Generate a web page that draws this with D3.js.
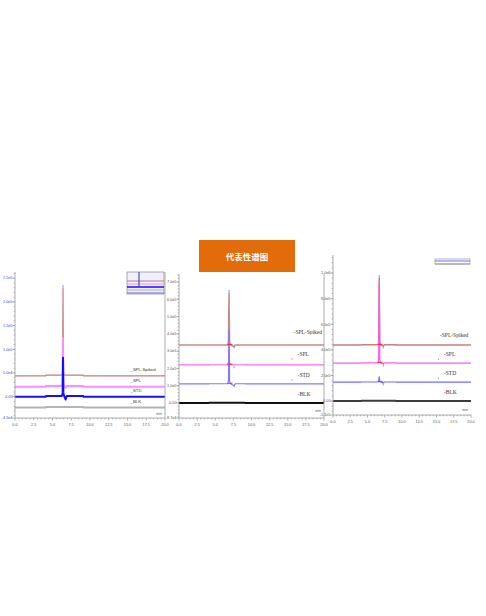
<!DOCTYPE html>
<html><head><meta charset="utf-8">
<script src="https://cdn.jsdelivr.net/npm/d3@7"></script>
<style>body{margin:0;background:#fff}svg{display:block}</style>
</head><body><svg id="c" width="486" height="616"></svg>
<script>
// ---------- data ----------
const titleText = "代表性谱图";
const seriesNames = ["SPL-Spiked", "SPL", "STD", "BLK"];
const xTickValues = [0, 2.5, 5, 7.5, 10, 12.5, 15, 17.5, 20];
const xTickLabels = ["0.0", "2.5", "5.0", "7.5", "10.0", "12.5", "15.0", "17.5", "20.0"];

const p1TickValues = [250000, 200000, 150000, 100000, 50000, 0, -45000];
const p1TickLabels = ["2.5e5", "2.0e5", "1.5e5", "1.0e5", "5.0e4", "0.00", "-4.5e4"];
const p1Time   = [0, 4.1, 4.12, 6.25, 6.35, 6.4, 6.45, 6.55, 6.75, 6.9, 9.1, 9.12, 20];
const p1Spiked = [44000, 44000, 45500, 45500, 52000, 229000, 52000, 45500, 45500, 45500, 45500, 44000, 44000];
const p1Spl    = [21000, 21000, 22500, 22500, 30000, 124000, 30000, 22500, 19000, 22500, 22500, 21000, 21000];
const p1Std    = [0, 0, 1500, 1500, 8000, 82000, 8000, 1500, -6000, 1500, 1500, 0, 0];
const p1Blk    = [-23000, -23000, -22000, -22000, -22000, -22000, -22000, -22000, -22000, -22000, -22000, -23000, -23000];

const p2TickValues = [700000, 600000, 500000, 400000, 300000, 200000, 100000, 0, -87000];
const p2TickLabels = ["7.0e5", "6.0e5", "5.0e5", "4.0e5", "3.0e5", "2.0e5", "1.0e5", "0.00", "-8.7e4"];
const p2Time   = [0, 4.1, 4.12, 6.7, 6.82, 6.9, 6.98, 7.1, 7.6, 7.75, 9.1, 9.12, 20];
const p2Spiked = [335000, 335000, 336000, 336000, 350000, 636000, 350000, 336000, 325000, 336000, 336000, 335000, 335000];
const p2Spl    = [220000, 220000, 221000, 221000, 235000, 360000, 235000, 221000, 221000, 221000, 221000, 220000, 220000];
const p2Std    = [110000, 110000, 111000, 111000, 125000, 420000, 125000, 111000, 100000, 111000, 111000, 110000, 110000];
const p2Blk    = [0, 0, 1000, 1000, 1000, 1000, 1000, 1000, 1000, 1000, 1000, 0, 0];

const p3TickValues = [1000000, 800000, 600000, 400000, 200000, 0, -109000];
const p3TickLabels = ["1.0e6", "8.0e5", "6.0e5", "4.0e5", "2.0e5", "0.00", "-1.1e5"];
const p3Time   = [0, 4.1, 4.12, 6.5, 6.62, 6.7, 6.78, 6.9, 7.3, 7.45, 9.1, 9.12, 20];
const p3Spiked = [437000, 437000, 439000, 439000, 455000, 960000, 455000, 439000, 430000, 439000, 439000, 437000, 437000];
const p3Spl    = [297000, 297000, 298000, 298000, 320000, 930000, 320000, 298000, 290000, 298000, 298000, 297000, 297000];
const p3Std    = [148000, 148000, 149000, 149000, 155000, 190000, 155000, 149000, 142000, 149000, 149000, 148000, 148000];
const p3Blk    = [0, 0, 2000, 2000, 2000, 2000, 2000, 2000, 2000, 2000, 2000, 0, 0];

// ---------- layout / style ----------
const svg = d3.select("#c");
const panels = [
  { x0: 15, x1: 165, yTop: 272, yBot: 418, domain: [-45000, 263000], ticks: p1TickValues, labels: p1TickLabels,
    time: p1Time, series: [p1Spiked, p1Spl, p1Std, p1Blk], tickColor: "#3a3aff", rightBorder: true,
    colors: ["#c47c7c", "#ff8cff", "#1010ff", "#b4b4b4"], widths: [1.2, 2, 2, 2],
    labelT: 15.4, labelDy: [-5, -5, -5, -5], labelFont: 4.3, labelPrefix: "_", labelSerif: false, minDy: -3,
    inset: { x: 127, y: 272, w: 37, h: 22, rows: [281, 284, 287, 290], extra: 293, vline: 139 }, red: false },
  { x0: 179, x1: 324, yTop: 274, yBot: 418, domain: [-87000, 746000], ticks: p2TickValues, labels: p2TickLabels,
    time: p2Time, series: [p2Spiked, p2Spl, p2Std, p2Blk], tickColor: "#555", rightBorder: true,
    colors: ["#c48a8a", "#ff66ff", "#7c7cff", "#111"], widths: [1.5, 1.2, 1.2, 2],
    labelT: 15.8, labelDy: [-11, -9, -7, -7], labelFont: 5.5, labelPrefix: "-", labelSerif: true, minDy: -6, red: true },
  { x0: 333, x1: 471, yTop: 255, yBot: 415, domain: [-109000, 1141000], ticks: p3TickValues, labels: p3TickLabels,
    time: p3Time, series: [p3Spiked, p3Spl, p3Std, p3Blk], tickColor: "#555", rightBorder: false,
    colors: ["#c48080", "#ff55ff", "#6e6eff", "#3c3c3c"], widths: [1.5, 1.2, 1.2, 2],
    labelT: 15.5, labelDy: [-8, -7, -7, -7], labelFont: 5.5, labelPrefix: "-", labelSerif: true, minDy: -4,
    inset3: { x: 435, y: 259, w: 35, h: 5 }, red: true }
];

// title
const tb = svg.append("g");
tb.append("rect").attr("x", 199).attr("y", 240).attr("width", 96).attr("height", 32).attr("fill", "#e36c0a");
tb.append("text").attr("x", 247).attr("y", 259.5).attr("text-anchor", "middle")
  .attr("font-family", "'Noto Sans CJK SC', sans-serif").attr("font-size", 8.5).attr("font-weight", "bold")
  .attr("fill", "#fff").text(titleText);

panels.forEach((p, pi) => {
  const g = svg.append("g");
  const x = d3.scaleLinear().domain([0, 20]).range([p.x0, p.x1]);
  const y = d3.scaleLinear().domain(p.domain).range([p.yBot, p.yTop]);

  g.append("rect").attr("x", p.x0).attr("y", p.yTop).attr("width", p.x1 - p.x0).attr("height", p.yBot - p.yTop).attr("fill", "#fff");

  const line = d3.line().x(d => x(d[0])).y(d => y(d[1]));
  [3, 0, 1, 2].forEach(si => {
    const pts = p.time.map((t, i) => [t, p.series[si][i]]);
    g.append("path").attr("d", line(pts)).attr("fill", "none")
      .attr("stroke", p.colors[si]).attr("stroke-width", p.widths[si]).attr("stroke-linejoin", "round");
  });

  if (p.red) {
    [0, 1, 2].forEach(si => {
      const s = p.series[si];
      g.append("line").attr("x1", x(p.time[4]) - 1).attr("x2", x(p.time[7]) + 2)
        .attr("y1", y(s[3]) - 0.5).attr("y2", y(s[3]) - 0.5).attr("stroke", "#ff2020").attr("stroke-width", 1);
      g.append("line").attr("x1", x(p.time[8])).attr("x2", x(p.time[8]))
        .attr("y1", y(s[3]) + 1).attr("y2", y(s[3]) + 3.5).attr("stroke", "#8080ff").attr("stroke-width", 0.8);
    });
  }
  const apex = d3.max(p.series[0]);
  g.append("line").attr("x1", x(p.time[5])).attr("x2", x(p.time[5]))
    .attr("y1", y(apex) - 0.5).attr("y2", y(apex) - 3).attr("stroke", "#8a8aff").attr("stroke-width", 1);

  const ax = g.append("g").attr("fill", "none").attr("stroke", "#9a9a9a").attr("stroke-width", 0.8);
  ax.append("line").attr("x1", p.x0).attr("x2", p.x0).attr("y1", p.yTop).attr("y2", p.yBot);
  ax.append("line").attr("x1", p.x0).attr("x2", p.x1).attr("y1", p.yBot).attr("y2", p.yBot);
  if (p.rightBorder) ax.append("line").attr("x1", p.x1).attr("x2", p.x1).attr("y1", p.yTop).attr("y2", p.yBot);

  d3.range(0, 20.01, 0.5).forEach(t => {
    const major = xTickValues.includes(t);
    ax.append("line").attr("x1", x(t)).attr("x2", x(t)).attr("y1", p.yBot).attr("y2", p.yBot + (major ? 2.5 : 1.3));
  });
  g.selectAll(null).data(xTickValues).enter().append("text")
    .attr("x", d => x(d)).attr("y", p.yBot + 7.5).attr("text-anchor", "middle")
    .attr("font-family", "Liberation Sans, Arial").attr("font-size", 3.8).attr("fill", "#555")
    .text((d, i) => xTickLabels[i]);

  const step = p.ticks[0] - p.ticks[1];
  const minorStep = step / 5;
  for (let v = Math.ceil(p.domain[0] / minorStep) * minorStep; v <= p.domain[1]; v += minorStep) {
    ax.append("line").attr("x1", p.x0 - 1.3).attr("x2", p.x0).attr("y1", y(v)).attr("y2", y(v));
  }
  p.ticks.forEach(v => ax.append("line").attr("x1", p.x0 - 2.5).attr("x2", p.x0).attr("y1", y(v)).attr("y2", y(v)));
  g.selectAll(null).data(p.ticks).enter().append("text")
    .attr("x", p.x0 - 2.5).attr("y", d => y(d) + 1.3).attr("text-anchor", "end")
    .attr("font-family", "Liberation Sans, Arial").attr("font-size", 3.8).attr("fill", p.tickColor)
    .text((d, i) => p.labels[i]);

  g.append("text").attr("x", p.x1 - 3).attr("y", p.yBot + p.minDy).attr("text-anchor", "end")
    .attr("font-family", "Liberation Sans, Arial").attr("font-size", 3.5).attr("fill", "#555").text("min");

  seriesNames.forEach((n, si) => {
    const base = p.series[si][0];
    const showDot = pi > 0 && (si === 1 || si === 2);
    if (showDot) g.append("circle").attr("cx", x(p.labelT) - 1.5).attr("cy", y(base) + p.labelDy[si] + 3).attr("r", 0.6).attr("fill", "#777");
    g.append("text").attr("x", x(p.labelT) + (pi > 0 && si > 0 ? 4 : 0)).attr("y", y(base) + p.labelDy[si])
      .attr("font-family", p.labelSerif ? "Liberation Serif, serif" : "Liberation Sans, Arial")
      .attr("font-size", p.labelFont).attr("fill", "#333")
      .text(p.labelPrefix + n);
  });

  if (p.inset) {
    const s = p.inset;
    const ig = g.append("g");
    ig.append("rect").attr("x", s.x).attr("y", s.y).attr("width", s.w).attr("height", s.h)
      .attr("fill", "#eef0ff").attr("stroke", "#888").attr("stroke-width", 0.7);
    s.rows.forEach((ry, si) => ig.append("line").attr("x1", s.x).attr("x2", s.x + s.w).attr("y1", ry).attr("y2", ry)
      .attr("stroke", p.colors[si]).attr("stroke-width", si === 2 ? 1.3 : 1));
    ig.append("line").attr("x1", s.x).attr("x2", s.x + s.w).attr("y1", s.extra).attr("y2", s.extra)
      .attr("stroke", "#6a6aff").attr("stroke-width", 1.2);
    ig.append("line").attr("x1", s.vline).attr("x2", s.vline).attr("y1", s.y).attr("y2", s.rows[2])
      .attr("stroke", "#3030a0").attr("stroke-width", 1);
  }
  if (p.inset3) {
    const s = p.inset3;
    g.append("rect").attr("x", s.x).attr("y", s.y).attr("width", s.w).attr("height", s.h)
      .attr("fill", "#fff").attr("stroke", "#999").attr("stroke-width", 0.7);
    g.append("line").attr("x1", s.x).attr("x2", s.x + s.w).attr("y1", s.y + 2).attr("y2", s.y + 2)
      .attr("stroke", p.colors[2]).attr("stroke-width", 1.2);
    g.append("line").attr("x1", s.x).attr("x2", s.x + s.w).attr("y1", s.y + s.h).attr("y2", s.y + s.h)
      .attr("stroke", "#999").attr("stroke-width", 1.2);
  }
});
</script></body></html>
